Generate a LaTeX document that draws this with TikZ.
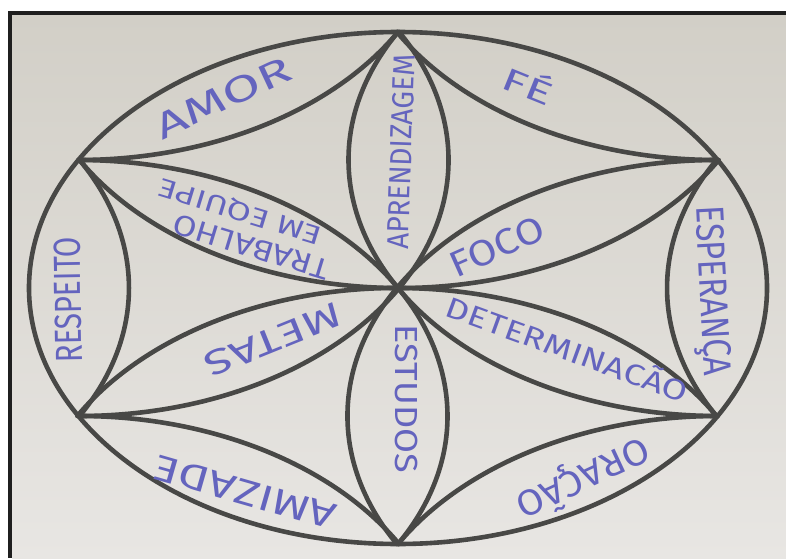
\documentclass[tikz,border=0pt]{standalone}
\usepackage{fontspec}
\usepackage{graphicx}
\newfontfamily\hand{Fira Sans}
\definecolor{ink}{RGB}{100,100,190}
\definecolor{pencil}{RGB}{72,72,70}
\definecolor{paperTop}{RGB}{210,207,199}
\definecolor{paperBot}{RGB}{232,230,227}
\newcommand{\hword}[3]{\resizebox{#1pt}{#2pt}{\hand\raisebox{0pt}[\fontcharht\font`A][0pt]{#3}}}
\begin{document}
\begin{tikzpicture}[x=1pt,y=1pt,
  lbl/.style={text=ink, inner sep=0pt, anchor=center},
  geo/.style={draw=pencil, line width=4.6pt, line join=round, line cap=round}]
\useasboundingbox (0,0) rectangle (786,558);
\fill[white] (0,0) rectangle (786,558);
\shade[top color=paperTop, bottom color=paperBot] (12,0) rectangle (786,543);
\fill[black!88] (8,0) rectangle (12,547);
\fill[black!88] (8,543) rectangle (786,547);

\begin{scope}[shift={(398,270)}, xscale=369, yscale=256]
  \coordinate (o) at (0,0);
  \foreach \i in {0,...,5} {\coordinate (v\i) at ({90+60*\i}:1);}
  \draw[geo] (o) circle (1);
  \foreach \i in {0,...,5} {
    \pgfmathtruncatemacro\j{mod(\i+1,6)}
    \pgfmathtruncatemacro\t{90+60*\i}
    \draw[geo] (v\j) arc[start angle=\t+120, end angle=\t+240, radius=1];
    \draw[geo] (v\i) arc[start angle=\t+240, end angle=\t+180, radius=1];
  }
\end{scope}

% outer ring words
\node[lbl, rotate=25]  (amor) at (223,460) {\hword{146}{25}{AMOR}};
\node[lbl, rotate=-22] (fe)   at (528,471) {\hword{52}{22}{FÉ}};
\node[lbl, rotate=-87] (esp)  at (714,267) {\hword{170}{27}{ESPERANÇA}};
\node[lbl, rotate=205] (ora)  at (583,80)  {\hword{143}{25}{ORAÇÃO}};
\node[lbl, rotate=164] (ami)  at (245,66)  {\hword{188}{25}{AMIZADE}};
\node[lbl, rotate=91]  (res)  at (68,258)  {\hword{126}{26}{RESPEITO}};
% petal words
\node[lbl, rotate=88]  (apr)  at (401,406) {\hword{195}{21}{APRENDIZAGEM}};
\node[lbl, rotate=24]  (foco) at (497,311) {\hword{100}{25}{FOCO}};
\node[lbl, rotate=-20] (det)  at (567,208) {\hword{255}{20}{DETERMINACÃO}};
\node[lbl, rotate=-90] (est)  at (406,159) {\hword{148}{22}{ESTUDOS}};
\node[lbl, rotate=202] (met)  at (273,218) {\hword{145}{24}{METAS}};
\node[lbl, rotate=163] (trab) at (251,311) {\hword{162}{20}{TRABALHO}};
\node[lbl, rotate=163] (eme)  at (240,346) {\hword{170}{18}{EM EQUIPE}};
\end{tikzpicture}
\end{document}
